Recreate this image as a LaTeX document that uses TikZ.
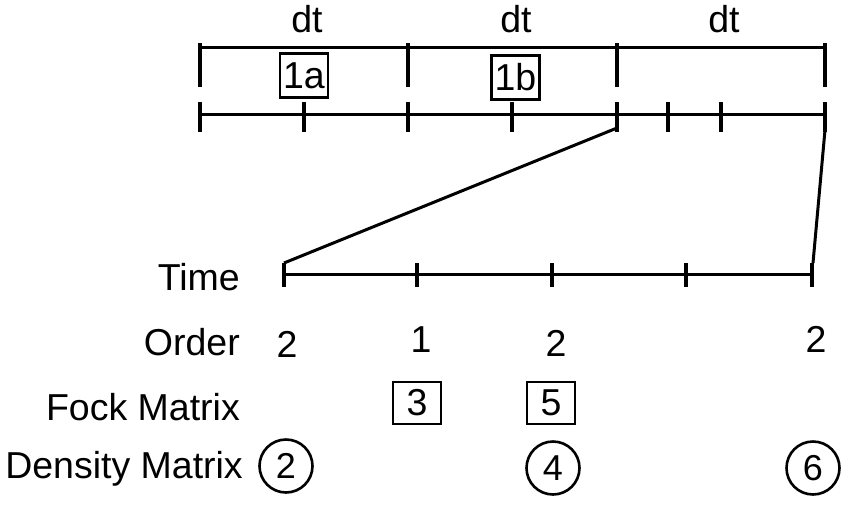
\documentclass[tikz,border=0pt]{standalone}
\usepackage{fontspec}
\setmainfont{Liberation Sans}
\begin{document}
\begin{tikzpicture}[x=1pt,y=-1pt,
  every node/.style={font=\fontsize{37.5}{42}\selectfont},
  axis/.style={line width=3pt},
  tick/.style={line width=3.6pt},
  lbl/.style={anchor=base east, inner sep=0pt},
  num/.style={anchor=base, inner sep=0pt},
  stepbox/.style={draw, line width=2.4pt, minimum width=48pt, minimum height=44pt, inner sep=0pt},
  dmcirc/.style={draw, circle, line width=2.6pt, minimum size=53pt, inner sep=0pt, font=\fontsize{36}{40}\selectfont}]
\useasboundingbox (0,0) rectangle (841,504);
% top interval line
\coordinate (u0) at (200,47); \coordinate (u3) at (825,47);
\draw[axis] (u0) -- (u3);
\foreach \x in {200,408,617,825} \draw[tick] (\x,43) -- (\x,87);
\node[num] (dt1) at (307,32) {dt};
\node[num] (dt2) at (516,32) {dt};
\node[num] (dt3) at (724,32) {dt};
\node[stepbox] (b1a) at (304,75.5) {1a};
\node[stepbox] (b1b) at (515.5,77.5) {1b};
% lower line
\coordinate (l0) at (200,114); \coordinate (l8) at (825,114);
\draw[axis] (l0) -- (l8);
\foreach \x in {200,304,408,512,617,668,721,825} \draw[tick] (\x,102) -- (\x,132);
% zoom lines
\coordinate (zl) at (617,128); \coordinate (zr) at (825,130);
\coordinate (t0) at (284,274); \coordinate (t4) at (812,274);
\draw[axis] (zl) -- (284,263);
\draw[axis] (zr) -- (813,263);
% time axis
\node[lbl] (time) at (240,290) {Time};
\draw[axis] (t0) -- (t4);
\foreach \x in {284,417,552,686,812} \draw[tick] (\x,263) -- (\x,287);
% order
\node[lbl] (order) at (240,355) {Order};
\node[num] (o1) at (287,357) {2};
\node[num] (o2) at (421,352) {1};
\node[num] (o3) at (556,356) {2};
\node[num] (o4) at (816,352) {2};
% fock
\node[lbl] (fock) at (240,420) {Fock Matrix};
\node[stepbox, minimum height=42pt] (f3) at (417,403) {3};
\node[stepbox, minimum height=42pt] (f5) at (551,403) {5};
% density
\node[lbl] (dens) at (243,478) {Density Matrix};
\node[dmcirc] (d2) at (286,466) {2};
\node[dmcirc] (d4) at (553,468) {4};
\node[dmcirc] (d6) at (813,468) {6};
\end{tikzpicture}
\end{document}
